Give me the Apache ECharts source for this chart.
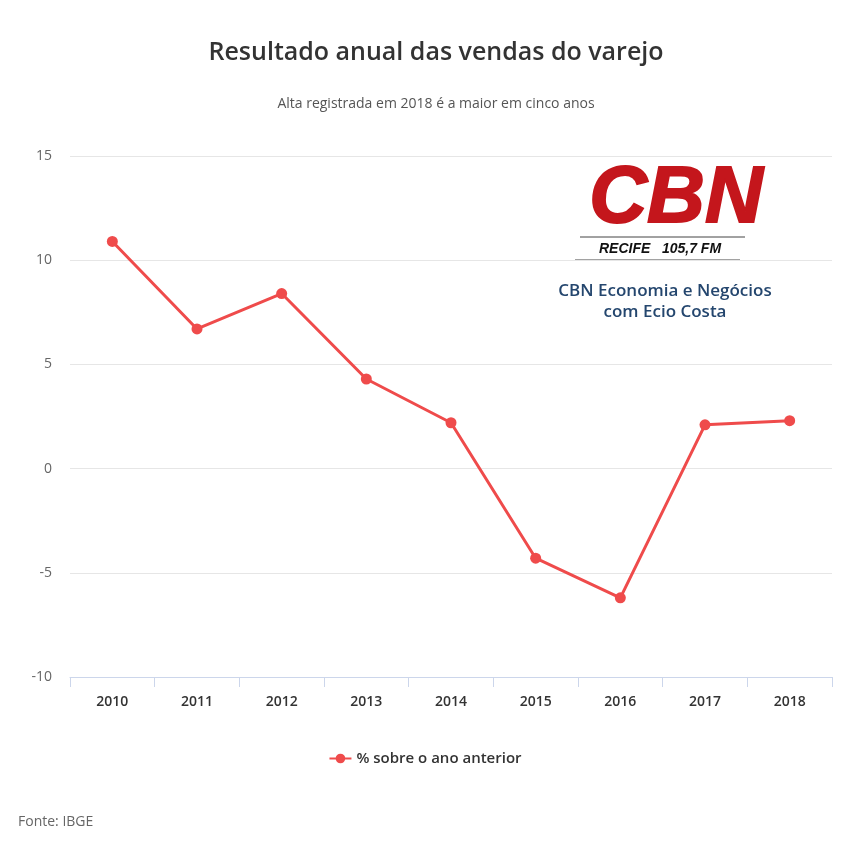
<!DOCTYPE html>
<html>
<head>
<meta charset="utf-8">
<script src="https://cdn.jsdelivr.net/npm/echarts@6/dist/echarts.min.js"></script>
<style>
  html, body { margin: 0; padding: 0; background: #fff; }
  #chart { width: 850px; height: 850px; }
</style>
</head>
<body>
<div id="chart"></div>
<script>
// Data
const years = ['2010', '2011', '2012', '2013', '2014', '2015', '2016', '2017', '2018'];
const vendas = [10.9, 6.7, 8.4, 4.3, 2.2, -4.3, -6.2, 2.1, 2.3];
const seriesName = '% sobre o ano anterior';

const chart = echarts.init(document.getElementById('chart'));

const option = {
    backgroundColor: '#ffffff',
    title: {
        text: 'Resultado anual das vendas do varejo',
        subtext: 'Alta registrada em 2018 é a maior em cinco anos',
        left: 431,
        textAlign: 'center',
        top: 35,
        itemGap: 32,
        textStyle: {
            fontFamily: 'Open Sans',
            fontSize: 25,
            fontWeight: 600,
            color: '#333333'
        },
        subtextStyle: {
            fontFamily: 'Open Sans',
            fontSize: 14,
            color: '#555555'
        }
    },
    legend: {
        data: [seriesName],
        bottom: 79,
        left: 'center',
        itemWidth: 22,
        itemHeight: 12,
        textStyle: {
            fontFamily: 'Open Sans',
            fontSize: 15,
            fontWeight: 600,
            color: '#333333'
        }
    },
    grid: {
        left: 70,
        right: 18,
        top: 156,
        bottom: 173
    },
    xAxis: {
        type: 'category',
        data: years,
        boundaryGap: true,
        axisLine: { onZero: false, lineStyle: { color: '#ccd6eb', width: 1 } },
        axisTick: { show: true, length: 10, lineStyle: { color: '#ccd6eb' } },
        axisLabel: {
            margin: 18,
            fontFamily: 'Open Sans',
            fontSize: 14,
            fontWeight: 600,
            color: '#333333'
        },
        splitLine: { show: false }
    },
    yAxis: {
        type: 'value',
        min: -10,
        max: 15,
        interval: 5,
        axisLine: { show: false },
        axisTick: { show: false },
        axisLabel: {
            margin: 18,
            fontFamily: 'Open Sans',
            fontSize: 14,
            color: '#666666'
        },
        splitLine: { lineStyle: { color: '#e6e6e6', width: 1 } }
    },
    series: [
        {
            name: seriesName,
            type: 'line',
            data: vendas,
            symbol: 'circle',
            symbolSize: 11,
            itemStyle: { color: '#ef4b4b' },
            lineStyle: { color: '#ef4b4b', width: 3 },
            z: 2
        }
    ],
    graphic: [
        // Logo overlay
        {
            type: 'group',
            z: 100,
            children: [
                {
                    type: 'rect',
                    shape: { x: 562, y: 166, width: 210, height: 162 },
                    style: { fill: '#ffffff' }
                },
                {
                    type: 'text',
                    x: 676,
                    y: 200,
                    style: {
                        text: 'CBN',
                        align: 'center',
                        verticalAlign: 'middle',
                        fontFamily: 'Liberation Sans',
                        fontSize: 80,
                        fontWeight: 'bold',
                        fontStyle: 'italic',
                        fill: '#c4161c',
                        stroke: '#c4161c',
                        lineWidth: 2
                    }
                },
                {
                    type: 'line',
                    shape: { x1: 580, y1: 237, x2: 745, y2: 237 },
                    style: { stroke: '#444444', lineWidth: 1 }
                },
                {
                    type: 'text',
                    x: 660,
                    y: 249,
                    style: {
                        text: 'RECIFE   105,7 FM',
                        align: 'center',
                        verticalAlign: 'middle',
                        fontFamily: 'Liberation Sans',
                        fontSize: 14,
                        fontWeight: 'bold',
                        fontStyle: 'italic',
                        fill: '#111111'
                    }
                },
                {
                    type: 'line',
                    shape: { x1: 575, y1: 260, x2: 740, y2: 260 },
                    style: { stroke: '#444444', lineWidth: 1 }
                },
                {
                    type: 'text',
                    x: 665,
                    y: 291,
                    style: {
                        text: 'CBN Economia e Negócios',
                        align: 'center',
                        verticalAlign: 'middle',
                        fontFamily: 'Open Sans',
                        fontSize: 17,
                        fontWeight: 600,
                        fill: '#24466e'
                    }
                },
                {
                    type: 'text',
                    x: 665,
                    y: 312,
                    style: {
                        text: 'com Ecio Costa',
                        align: 'center',
                        verticalAlign: 'middle',
                        fontFamily: 'Open Sans',
                        fontSize: 17,
                        fontWeight: 600,
                        fill: '#24466e'
                    }
                }
            ]
        },
        {
            type: 'text',
            left: 18,
            top: 815,
            style: {
                text: 'Fonte: IBGE',
                fontFamily: 'Open Sans',
                fontSize: 14,
                fill: '#666666'
            }
        }
    ]
};

option && chart.setOption(option);
</script>
</body>
</html>
